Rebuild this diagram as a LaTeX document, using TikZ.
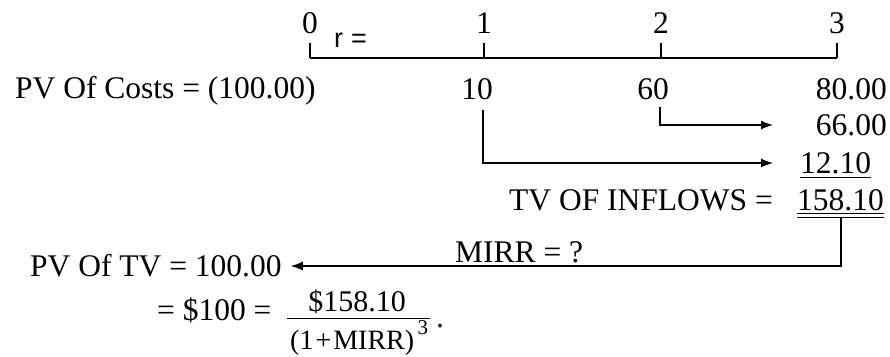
\documentclass[tikz,border=0pt]{standalone}
\usepackage{fontspec}
\setmainfont{Liberation Serif}
\newfontfamily\arialf{Liberation Sans}
\usetikzlibrary{arrows.meta}
\begin{document}
\begin{tikzpicture}[x=1pt,y=-1pt,
  txt/.style={inner sep=0pt,font=\fontsize{31.5}{35}\selectfont},
  frac/.style={inner sep=0pt,font=\fontsize{30}{33}\selectfont},
  ln/.style={line width=1.3pt},
  arr/.style={line width=1.3pt,-{Latex[length=12pt,width=9pt]}}]
\useasboundingbox (0,0) rectangle (890,356);
% timeline
\coordinate (T0) at (310,58);
\coordinate (T1) at (484,58);
\coordinate (T2) at (661,58);
\coordinate (T3) at (837,58);
\draw[ln] (T0) -- (T3);
\foreach \t in {T0,T1,T2,T3} \draw[ln] (\t) -- ++(0,-15);
\node[txt,anchor=base] (l0) at (310,33) {0};
\node[txt,anchor=base] (l1) at (484,33) {1};
\node[txt,anchor=base] (l2) at (661,33) {2};
\node[txt,anchor=base] (l3) at (837,33) {3};
\node[inner sep=0pt,anchor=base west,font=\arialf\fontsize{27}{30}\selectfont] (r) at (334,47) {r\hspace{8pt}=};
% row 1
\node[txt,anchor=base west] (pvc) at (15,98) {PV Of Costs = (100.00)};
\node[txt,anchor=base] (n10) at (477,99) {10};
\node[txt,anchor=base] (n60) at (653,99) {60};
\node[txt,anchor=base east] (n80) at (887,99) {80.00};
\node[txt,anchor=base east] (n66) at (887,135) {66.00};
\node[txt,anchor=base west] (n12) at (800,173) {12.10};
\node[txt,anchor=base east] (tvl) at (773,210) {TV OF INFLOWS =};
\node[txt,anchor=base west] (tv) at (797,210) {158.10};
\draw[line width=1pt] ([yshift=-4pt]n12.base west) -- ([yshift=-4pt]n12.base east);
\draw[line width=1pt] ([yshift=-3pt]tv.base west) -- ([yshift=-3pt]tv.base east);
\draw[line width=1pt] ([yshift=-7pt]tv.base west) -- ([yshift=-7pt]tv.base east);
% arrows
\coordinate (a60) at (773,125);
\coordinate (a10) at (773,163);
\draw[arr] ([xshift=7pt,yshift=-8pt]n60.base) |- (a60);
\draw[arr] ([xshift=6pt,yshift=-11pt]n10.base) |- (a10);
\node[txt,anchor=base west] (pvtv) at (30,276) {PV Of TV = 100.00};
\draw[arr] ([xshift=-43pt,yshift=-8pt]tv.base east) |- ([xshift=9pt,yshift=10pt]pvtv.base east);
\node[txt,anchor=base west] (mirr) at (455,262) {MIRR = ?};
% formula
\node[txt,anchor=base west] (eq) at (157,320) {= \$100 =};
\node[frac,anchor=base] (num) at (357,311) {\$158.10};
\node[inner sep=0pt,anchor=base west,font=\fontsize{28}{31}\selectfont] (den) at (290,349) {(1\hspace{2pt}+\hspace{2pt}MIRR)};
\node[inner sep=0pt,anchor=base west,font=\fontsize{21}{24}\selectfont] (sup) at ([xshift=3pt,yshift=15pt]den.base east) {3};
\draw[line width=1pt] (287,318) -- (430,318);
\node[txt,anchor=base] (dot) at (440,327) {.};
\end{tikzpicture}
\end{document}
